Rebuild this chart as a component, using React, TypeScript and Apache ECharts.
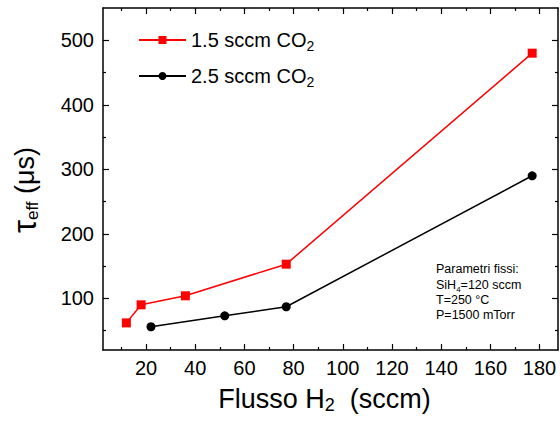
import React, { useEffect, useRef } from 'react';
import * as echarts from 'echarts';

const h2Red = [12, 18, 36, 77, 177];
const tauRed = [62, 90, 104, 153, 480];
const h2Black = [22, 52, 77, 177];
const tauBlack = [56, 73, 87, 290];
const xMajor = [20, 40, 60, 80, 100, 120, 140, 160, 180];
const xMinor = [10, 30, 50, 70, 90, 110, 130, 150, 170];
const yMajor = [100, 200, 300, 400, 500];
const yMinor = [50, 150, 250, 350, 450];
const seriesNames = ['1.5 sccm CO2', '2.5 sccm CO2'];
const notes = ['Parametri fissi:', 'SiH{s|4}=120 sccm', 'T=250 °C', 'P=1500 mTorr'];

const X_MIN = 2.5;
const X_MAX = 187.5;
const Y_MIN = 20;
const Y_MAX = 550;
const FONT = 'Liberation Sans, Arial, sans-serif';

function mkAxis(kind: 'x' | 'y', position: string, ticks: number[], len: number, labels: boolean, line: boolean, extra: any = {}) {
  return {
    type: 'value',
    position,
    min: kind === 'x' ? X_MIN : Y_MIN,
    max: kind === 'x' ? X_MAX : Y_MAX,
    axisLine: { show: line, onZero: false, lineStyle: { color: '#000', width: 1.5 } },
    axisTick: { show: true, inside: true, length: len, customValues: ticks, lineStyle: { color: '#000', width: 1.2 } },
    axisLabel: labels
      ? { show: true, customValues: ticks, color: '#000', fontSize: 20, fontFamily: FONT, margin: kind === 'x' ? 8 : 9 }
      : { show: false },
    splitLine: { show: false },
    ...extra,
  };
}

export default function App() {
  const ref = useRef<HTMLDivElement>(null);
  useEffect(() => {
    if (!ref.current) return;
    const chart = echarts.init(ref.current, undefined, { renderer: 'svg' });
    const noteTops = [269, 285, 300, 315];
    chart.setOption({
      animation: false,
      backgroundColor: '#fff',
      textStyle: { fontFamily: FONT },
      grid: { left: 103, right: 2, top: 8, bottom: 73, containLabel: false, outerBoundsMode: 'none' },
      legend: {
        orient: 'vertical',
        left: 138,
        top: 30,
        padding: 0,
        itemWidth: 47,
        itemHeight: 10,
        itemGap: 13,
        data: seriesNames,
        formatter: (name: string) => name.replace('CO2', 'CO{s|2}'),
        textStyle: {
          fontSize: 20,
          color: '#000',
          fontFamily: FONT,
          rich: { s: { fontSize: 14, fontFamily: FONT, color: '#000', padding: [12, 0, 0, 0] } },
        },
      },
      xAxis: [
        mkAxis('x', 'bottom', xMajor, 6, true, true, {
          name: 'Flusso H{s|2}  (sccm)',
          nameLocation: 'middle',
          nameGap: 33,
          nameTextStyle: {
            fontSize: 27,
            color: '#000',
            fontFamily: FONT,
            padding: [0, 12, 0, 0],
            rich: { s: { fontSize: 18, fontFamily: FONT, color: '#000', padding: [13, 0, 0, 0] } },
          },
        }),
        mkAxis('x', 'bottom', xMinor, 3, false, false),
        mkAxis('x', 'top', xMajor, 6, false, true),
        mkAxis('x', 'top', xMinor, 3, false, false),
      ],
      yAxis: [
        mkAxis('y', 'left', yMajor, 6, true, true, {
          name: '{t|τ}{s|eff} (μs)',
          nameLocation: 'middle',
          nameRotate: 90,
          nameGap: 62,
          nameTextStyle: {
            fontSize: 27,
            color: '#000',
            fontFamily: FONT,
            padding: [0, 22, 0, 0],
            rich: {
              t: { fontSize: 33, fontFamily: FONT, color: '#000' },
              s: { fontSize: 17, fontFamily: FONT, color: '#000', padding: [16, 0, 0, 0] },
            },
          },
        }),
        mkAxis('y', 'left', yMinor, 3, false, false),
        mkAxis('y', 'right', yMajor, 6, false, true),
        mkAxis('y', 'right', yMinor, 3, false, false),
      ],
      graphic: notes.map((t, i) => ({
        type: 'text',
        left: 436,
        top: noteTops[i] - 7,
        style: {
          text: t,
          fill: '#000',
          font: `12.5px ${FONT}`,
          rich: { s: { fontSize: 8, fontFamily: FONT, fill: '#000', padding: [9, 0, 0, 0] } },
        },
      })),
      series: [
        {
          name: seriesNames[0],
          type: 'line',
          xAxisIndex: 0,
          yAxisIndex: 0,
          data: h2Red.map((x, i) => [x, tauRed[i]]),
          symbol: 'rect',
          symbolSize: 9,
          itemStyle: { color: '#ff0000' },
          lineStyle: { color: '#ff0000', width: 1.5 },
        },
        {
          name: seriesNames[1],
          type: 'line',
          xAxisIndex: 0,
          yAxisIndex: 0,
          data: h2Black.map((x, i) => [x, tauBlack[i]]),
          symbol: 'circle',
          symbolSize: 9,
          itemStyle: { color: '#000' },
          lineStyle: { color: '#000', width: 1.5 },
        },
      ],
    });
    return () => chart.dispose();
  }, []);
  return <div ref={ref} style={{ position: 'fixed', left: 0, top: 0, width: 560, height: 423 }} />;
}
